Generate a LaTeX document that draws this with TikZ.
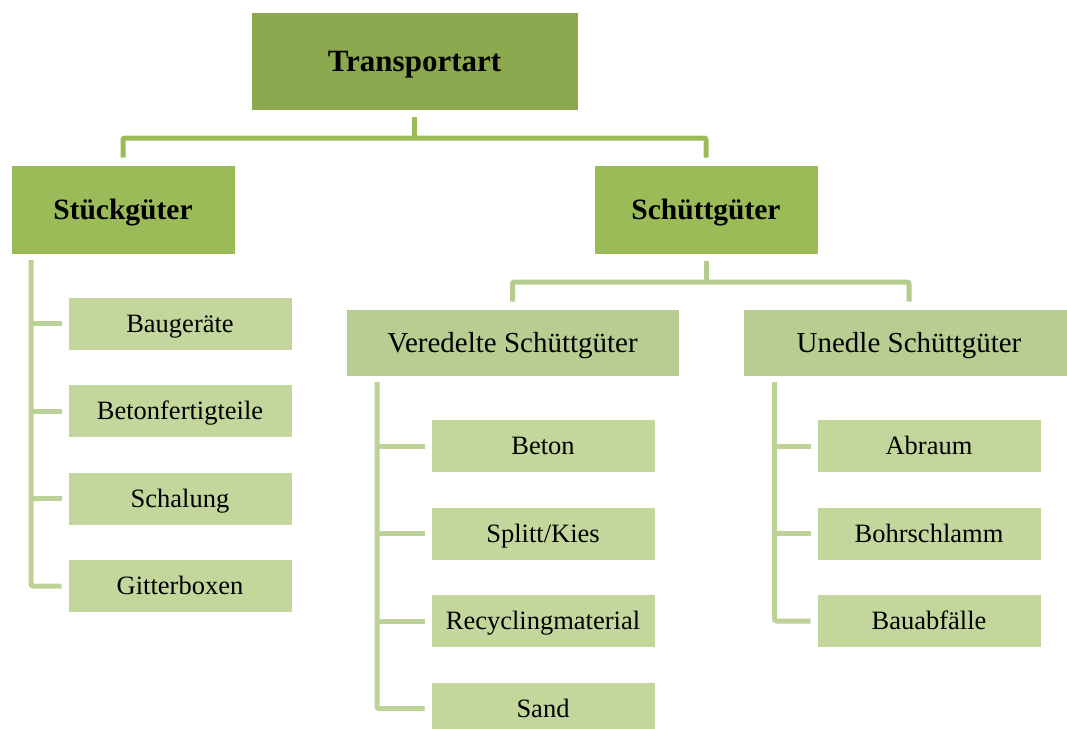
\documentclass[tikz,border=0pt]{standalone}
\usepackage{fontspec}
\setmainfont{Liberation Serif}
\definecolor{topfill}{HTML}{8CA94F}
\definecolor{midfill}{HTML}{9BBB59}
\definecolor{subfill}{HTML}{B7CD91}
\definecolor{leaffill}{HTML}{C3D69B}
\definecolor{linedark}{HTML}{9BBB59}
\definecolor{linemid}{HTML}{B6CC8E}
\definecolor{linelight}{HTML}{BDD297}
\tikzset{
  box/.style={draw=white, line width=0.6pt, inner sep=0pt, anchor=center, text=black},
  topbox/.style={box, fill=topfill, minimum width=327pt, minimum height=98pt,
    font=\fontsize{31}{36}\selectfont\bfseries, text height=28pt, text depth=7.5pt},
  catbox/.style={box, fill=midfill, minimum width=224pt, minimum height=89pt,
    font=\fontsize{29.5}{34}\selectfont\bfseries, text height=26.5pt, text depth=7pt},
  subbox/.style={box, fill=subfill, minimum width=333pt, minimum height=67pt,
    font=\fontsize{29}{34}\selectfont, text height=26pt, text depth=7pt},
  leafbox/.style={box, fill=leaffill, minimum width=224pt, minimum height=53pt,
    font=\fontsize{26.5}{30}\selectfont, text height=24pt, text depth=6.5pt},
  conn/.style={line width=5pt, line cap=butt, rounded corners=2pt},
}
\begin{document}
\begin{tikzpicture}[x=1pt, y=-1pt]
\useasboundingbox (0,0) rectangle (1067,728);
\begin{scope}
\clip (0,0) rectangle (1067,728);

% top level and categories
\node[topbox] (top) at (414.5,61) {Transportart};
\node[catbox] (stk) at (123,209.5) {Stückgüter};
\node[catbox] (sch) at (706,209.5) {Schüttgüter};

% bulk goods subgroups
\node[subbox] (ver) at (512.5,342.5) {Veredelte Schüttgüter};
\node[subbox, minimum width=332pt] (une) at (909,342.5) {Unedle Schüttgüter};

% piece goods
\node[leafbox] (bau) at (180,323.5) {Baugeräte};
\node[leafbox] (bft) at (180,411) {Betonfertigteile};
\node[leafbox] (sha) at (180,498.5) {Schalung};
\node[leafbox] (git) at (180,586) {Gitterboxen};

% refined bulk goods
\node[leafbox] (bet) at (543,446) {Beton};
\node[leafbox] (spk) at (543,533.5) {Splitt/Kies};
\node[leafbox] (rec) at (543,621) {Recyclingmaterial};
\node[leafbox] (snd) at (543,708.5) {Sand};

% base bulk goods
\node[leafbox] (abr) at (929,446) {Abraum};
\node[leafbox] (bos) at (929,533.5) {Bohrschlamm};
\node[leafbox] (baf) at (929,621) {Bauabfälle};

% junction points
\coordinate (bus1) at (414.5,138);
\coordinate (bus2) at (706,282);
\coordinate (stkrail) at (31,260);
\coordinate (verrail) at (377,382);
\coordinate (unerail) at (774.5,382);

% top level to categories
\draw[conn, linedark] ([yshift=-7pt]top.south) -- (bus1);
\draw[conn, linedark] ([yshift=7pt]stk.north) |- (bus1) -| ([yshift=7pt]sch.north);

% bulk goods to subgroups
\draw[conn, linemid] ([yshift=-7pt]sch.south) -- (bus2);
\draw[conn, linemid] ([yshift=7pt]ver.north) |- (bus2) -| ([yshift=7pt]une.north);

% piece goods rail
\draw[conn, linelight] (stkrail) |- ([xshift=-6pt]git.west);
\foreach \n in {bau,bft,sha}
  \draw[conn, linelight, rounded corners=0pt] (stkrail |- \n.west) -- ([xshift=-6pt]\n.west);

% refined bulk goods rail
\draw[conn, linelight] (verrail) |- ([xshift=-6pt]snd.west);
\foreach \n in {bet,spk,rec}
  \draw[conn, linelight, rounded corners=0pt] (verrail |- \n.west) -- ([xshift=-6pt]\n.west);

% base bulk goods rail
\draw[conn, linelight] (unerail) |- ([xshift=-6pt]baf.west);
\foreach \n in {abr,bos}
  \draw[conn, linelight, rounded corners=0pt] (unerail |- \n.west) -- ([xshift=-6pt]\n.west);
\end{scope}
\end{tikzpicture}
\end{document}
